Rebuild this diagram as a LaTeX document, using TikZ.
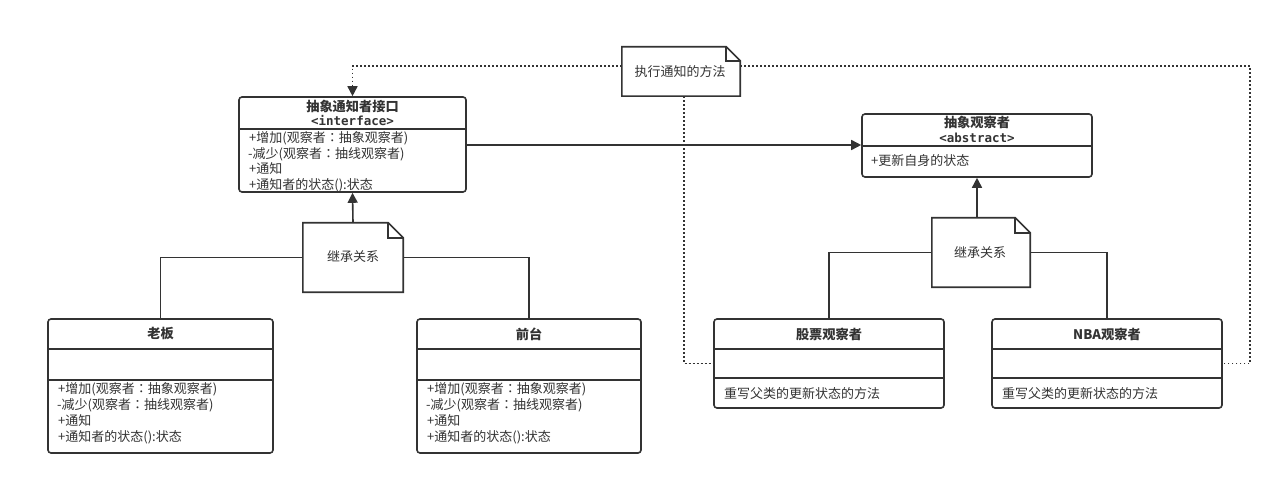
\documentclass[tikz,border=0pt]{standalone}
\usepackage{fontspec}
\setmainfont{Noto Sans CJK SC}
\newfontfamily\monob{DejaVu Sans Mono}
\newfontfamily\tcf{Noto Sans CJK TC}
\newcommand{\ccolon}{{\tcf ：}}
\usetikzlibrary{arrows.meta}
\definecolor{lc}{HTML}{333333}
\begin{document}
\begin{tikzpicture}[x=1pt,y=-1pt,
  clsbox/.style={draw=lc, line width=1.6pt, rounded corners=3pt, inner sep=0pt},
  notebox/.style={inner sep=0pt},
  ttl/.style={font=\fontsize{13.2}{15}\selectfont\bfseries, text=lc, inner sep=0pt},
  stereo/.style={font=\monob\fontsize{12.5}{14}\selectfont\bfseries, text=lc, inner sep=0pt},
  mtxt/.style={font=\fontsize{13}{15}\selectfont, text=lc, inner sep=0pt, anchor=west},
  ntxt/.style={font=\fontsize{13}{15}\selectfont, text=lc, inner sep=0pt},
  solidl/.style={draw=lc, line width=1.6pt},
  dotl/.style={draw=lc, line width=1.6pt, dash pattern=on 1.8pt off 2.2pt},
  tip/.style={-{Triangle[length=10pt,width=10pt]}}
]
\useasboundingbox (0,0) rectangle (1284,486);
\fill[white] (0,0) rectangle (1284,486);

% ---------- class boxes ----------
\node[clsbox, minimum width=227pt, minimum height=95pt] (iface) at (352.5,144.5) {};
\draw[solidl] (iface.west |- 0,129) -- (iface.east |- 0,129);
\node[ttl] (ifaceT) at (352.5,106) {抽象通知者接口};
\node[stereo] (ifaceS) at (352.5,121) {<interface>};
\node[mtxt] (ifm1) at (249,138) {+增加(观察者\ccolon 抽象观察者)};
\node[mtxt] (ifm2) at (248,154) {-减少(观察者\ccolon 抽线观察者)};
\node[mtxt] (ifm3) at (249,169) {+通知};
\node[mtxt] (ifm4) at (249,185) {+通知者的状态():状态};

\node[clsbox, minimum width=230pt, minimum height=63pt] (obs) at (977,145.5) {};
\draw[solidl] (obs.west |- 0,146) -- (obs.east |- 0,146);
\node[ttl] (obsT) at (977,122) {抽象观察者};
\node[stereo] (obsS) at (977,138) {<abstract>};
\node[mtxt] (obm1) at (871,161) {+更新自身的状态};

\node[clsbox, minimum width=225pt, minimum height=134pt] (boss) at (160.5,386) {};
\draw[solidl] (boss.west |- 0,349) -- (boss.east |- 0,349);
\draw[solidl] (boss.west |- 0,380) -- (boss.east |- 0,380);
\node[ttl] (bossT) at (160.5,334) {老板};
\node[mtxt] (bm1) at (58,389) {+增加(观察者\ccolon 抽象观察者)};
\node[mtxt] (bm2) at (57,405) {-减少(观察者\ccolon 抽线观察者)};
\node[mtxt] (bm3) at (58,421) {+通知};
\node[mtxt] (bm4) at (58,437) {+通知者的状态():状态};

\node[clsbox, minimum width=224pt, minimum height=134pt] (front) at (529,386) {};
\draw[solidl] (front.west |- 0,349) -- (front.east |- 0,349);
\draw[solidl] (front.west |- 0,380) -- (front.east |- 0,380);
\node[ttl] (frontT) at (529,334) {前台};
\node[mtxt] (fm1) at (427,389) {+增加(观察者\ccolon 抽象观察者)};
\node[mtxt] (fm2) at (426,405) {-减少(观察者\ccolon 抽线观察者)};
\node[mtxt] (fm3) at (427,421) {+通知};
\node[mtxt] (fm4) at (427,437) {+通知者的状态():状态};

\node[clsbox, minimum width=230pt, minimum height=89pt] (stock) at (829,363.5) {};
\draw[solidl] (stock.west |- 0,349) -- (stock.east |- 0,349);
\draw[solidl] (stock.west |- 0,378) -- (stock.east |- 0,378);
\node[ttl] (stockT) at (829,334) {股票观察者};
\node[mtxt] (sm1) at (724,394) {重写父类的更新状态的方法};

\node[clsbox, minimum width=230pt, minimum height=89pt] (nba) at (1107,363.5) {};
\draw[solidl] (nba.west |- 0,349) -- (nba.east |- 0,349);
\draw[solidl] (nba.west |- 0,378) -- (nba.east |- 0,378);
\node[ttl] (nbaT) at (1107,334) {NBA观察者};
\node[mtxt] (nm1) at (1002,394) {重写父类的更新状态的方法};

% ---------- notes ----------
\node[notebox, minimum width=118pt, minimum height=49pt] (noteTop) at (681,71.5) {};
\draw[solidl, fill=white] (noteTop.south west) -- (noteTop.north west) -- ([xshift=-14pt]noteTop.north east)
  -- ([yshift=-14pt]noteTop.north east) -- (noteTop.south east) -- cycle;
\draw[solidl] ([xshift=-14pt]noteTop.north east) -- ([xshift=-14pt,yshift=-14pt]noteTop.north east) -- ([yshift=-14pt]noteTop.north east);
\node[ntxt] (noteTopT) at (680,72) {执行通知的方法};

\node[notebox, minimum width=100pt, minimum height=69pt] (noteL) at (353,257.5) {};
\draw[solidl, fill=white] (noteL.south west) -- (noteL.north west) -- ([xshift=-15pt]noteL.north east)
  -- ([yshift=-15pt]noteL.north east) -- (noteL.south east) -- cycle;
\draw[solidl] ([xshift=-15pt]noteL.north east) -- ([xshift=-15pt,yshift=-15pt]noteL.north east) -- ([yshift=-15pt]noteL.north east);
\node[ntxt] (noteLT) at (353,257) {继承关系};

\node[notebox, minimum width=98pt, minimum height=69pt] (noteR) at (981,252.5) {};
\draw[solidl, fill=white] (noteR.south west) -- (noteR.north west) -- ([xshift=-15pt]noteR.north east)
  -- ([yshift=-15pt]noteR.north east) -- (noteR.south east) -- cycle;
\draw[solidl] ([xshift=-15pt]noteR.north east) -- ([xshift=-15pt,yshift=-15pt]noteR.north east) -- ([yshift=-15pt]noteR.north east);
\node[ntxt] (noteRT) at (980,253) {继承关系};

% ---------- connectors ----------
\draw[solidl, tip] (iface.east |- 0,145) -- (obs.west |- 0,145);
\draw[solidl, tip] (noteL.north) -- (iface.south);
\draw[solidl] (noteL.west) -| (boss.north);
\draw[solidl] (noteL.east) -| (front.north);
\draw[solidl, tip] (noteR.north -| obs.south) -- (obs.south);
\draw[solidl] (noteR.west) -| (stock.north);
\draw[solidl] (noteR.east) -| (nba.north);

\coordinate (rc) at (1250,66);
\draw[dotl, tip] ([yshift=5.5pt]noteTop.west) -| (iface.north);
\draw[dotl] ([yshift=5.5pt]noteTop.east) -- (rc) |- (nba.east);
\draw[dotl] ([xshift=3pt]noteTop.south) |- (stock.west);
\end{tikzpicture}
\end{document}
